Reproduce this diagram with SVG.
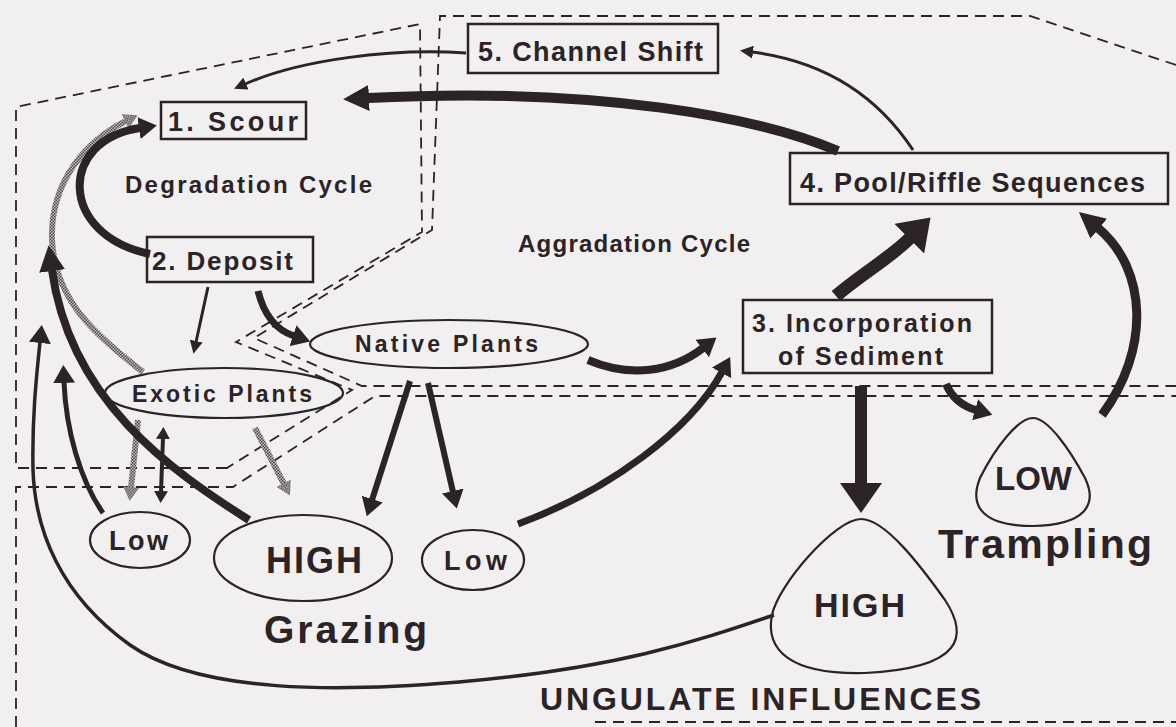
<svg xmlns="http://www.w3.org/2000/svg" width="1176" height="727" viewBox="0 0 1176 727">
<style>
.t{font-family:"Liberation Sans",Arial,Helvetica,sans-serif;font-weight:bold;fill:#2b2326}
.box{fill:none;stroke:#2b2326;stroke-width:2.5}
.ell{fill:none;stroke:#2b2326;stroke-width:2.2}
.reg{fill:none;stroke:#2b2326;stroke-width:1.8;stroke-dasharray:11 7}
.c{fill:none;stroke:#2b2326;stroke-linecap:butt}
.g{fill:none;stroke:url(#stip);stroke-width:6}
</style>
<defs>
<pattern id="stip" width="3" height="3" patternUnits="userSpaceOnUse">
<rect width="3" height="3" fill="#c4c1c2"/>
<rect width="1.5" height="1.5" fill="#4a4548"/>
<rect x="1.5" y="1.5" width="1.5" height="1.5" fill="#4a4548"/>
</pattern>
<pattern id="hatch" width="4" height="4" patternUnits="userSpaceOnUse">
<rect width="4" height="4" fill="#2b2326"/>
<rect x="1" y="1" width="1" height="1" fill="#8a8587"/>
</pattern>
<marker id="hXL" markerUnits="userSpaceOnUse" markerWidth="30" markerHeight="42" viewBox="0 0 30 42" refX="1" refY="21" orient="auto"><path d="M0,0 L30,21 L0,42 Z" fill="#2b2326"/></marker>
<marker id="hL" markerUnits="userSpaceOnUse" markerWidth="26" markerHeight="26" viewBox="0 0 26 26" refX="1" refY="13" orient="auto"><path d="M0,0 L26,13 L0,26 Z" fill="#2b2326"/></marker>
<marker id="hM" markerUnits="userSpaceOnUse" markerWidth="18" markerHeight="22" viewBox="0 0 18 22" refX="1" refY="11" orient="auto"><path d="M0,0 L18,11 L0,22 Z" fill="#2b2326"/></marker>
<marker id="hS" markerUnits="userSpaceOnUse" markerWidth="13" markerHeight="13" viewBox="0 0 13 13" refX="1" refY="6.5" orient="auto"><path d="M0,0 L13,6.5 L0,13 Z" fill="#2b2326"/></marker>
<marker id="hD" markerUnits="userSpaceOnUse" markerWidth="12" markerHeight="14" viewBox="0 0 12 14" refX="1" refY="7" orient="auto-start-reverse"><path d="M0,0 L12,7 L0,14 Z" fill="#2b2326"/></marker>
<marker id="hG" markerUnits="userSpaceOnUse" markerWidth="14" markerHeight="16" viewBox="0 0 14 16" refX="1" refY="8" orient="auto"><path d="M0,0 L14,8 L0,16 Z" fill="url(#stip)"/></marker>
</defs>
<rect width="1176" height="727" fill="#f1eff0"/>

<g id="regions">
<path class="reg" d="M227,468 L16,468 L16,107 L420,24 L422,232 L236,342 L352,390 Z"/>
<path class="reg" d="M1176,65 L1030,16 L440,16 L432,230 L254,338 L362,386 L1176,386"/>
<path class="reg" d="M16,727 L16,487 L233,487 L375,396 L1176,396"/>
<path class="reg" d="M595,722 L1176,722"/>
</g>

<g id="connectors">
<path class="g" d="M143,372 C95,335 55,300 52,240 C50,180 88,140 126,121" marker-end="url(#hG)"/>
<path class="g" d="M138,420 L131,488" marker-end="url(#hG)"/>
<path class="g" d="M255,428 L284,484" marker-end="url(#hG)"/>
<path class="c" stroke="url(#hatch)" stroke-width="10" d="M838,151 C760,118 600,86 368,98" marker-end="url(#hL)"/>
<path class="c" stroke-width="3" d="M913,150 C880,100 830,62 752,52" marker-end="url(#hS)"/>
<path class="c" stroke-width="3" d="M466,53 C390,48 300,60 245,84" marker-end="url(#hS)"/>
<path class="c" stroke-width="8" d="M150,254 C58,235 58,140 140,128" marker-end="url(#hM)"/>
<path class="c" stroke-width="3" d="M208,287 L196,342" marker-end="url(#hS)"/>
<path class="c" stroke-width="7" d="M258,291 C264,315 276,330 294,336" marker-end="url(#hM)"/>
<path class="c" stroke-width="8" d="M588,360 C630,378 672,372 703,348" marker-end="url(#hM)"/>
<path class="c" stroke-width="7" d="M518,524 C610,490 690,430 722,372" marker-end="url(#hM)"/>
<path class="c" stroke-width="6" d="M410,381 L372,500" marker-end="url(#hM)"/>
<path class="c" stroke-width="6" d="M428,383 L453,492" marker-end="url(#hM)"/>
<path class="c" stroke-width="13" d="M836,296 C860,275 890,258 910,238" marker-end="url(#hXL)"/>
<path class="c" stroke-width="12" d="M861,386 L861,484" marker-end="url(#hXL)"/>
<path class="c" stroke-width="8" d="M946,384 C952,398 962,406 976,410" marker-end="url(#hM)"/>
<path class="c" stroke-width="9" d="M1102,415 C1150,350 1148,270 1098,228" marker-end="url(#hL)"/>
<path class="c" stroke-width="8" d="M249,520 C170,470 70,400 52,270" marker-end="url(#hL)"/>
<path class="c" stroke-width="5" d="M103,513 C80,480 66,430 64,382" marker-end="url(#hM)"/>
<path class="c" stroke-width="3.5" d="M774,615 C700,640 620,668 459,682 C340,692 200,694 130,645 C60,595 35,530 33,470 C32,420 36,380 40,342" marker-end="url(#hM)"/>
<path class="c" stroke-width="4" d="M163,438 L161,492" marker-start="url(#hD)" marker-end="url(#hD)"/>
</g>

<g id="n5">
<rect class="box" x="468" y="24" width="250" height="49"/>
<text class="t" x="478" y="61" font-size="27" textLength="225" lengthAdjust="spacing">5. Channel Shift</text>
</g>
<g id="n1">
<rect class="box" x="161" y="102" width="145" height="37"/>
<text class="t" x="168" y="131" font-size="27" textLength="130" lengthAdjust="spacing">1. Scour</text>
</g>
<g id="lblDeg">
<text class="t" x="125" y="193" font-size="24" textLength="247" lengthAdjust="spacing">Degradation Cycle</text>
</g>
<g id="n4">
<rect class="box" x="790" y="153" width="378" height="51"/>
<text class="t" x="800" y="192" font-size="27" textLength="345" lengthAdjust="spacing">4. Pool/Riffle Sequences</text>
</g>
<g id="lblAgg">
<text class="t" x="518" y="252" font-size="24" textLength="232" lengthAdjust="spacing">Aggradation Cycle</text>
</g>
<g id="n2">
<rect class="box" x="147" y="237" width="166" height="45"/>
<text class="t" x="152" y="270" font-size="26" textLength="141" lengthAdjust="spacing">2. Deposit</text>
</g>
<g id="native">
<ellipse class="ell" cx="449" cy="344" rx="139" ry="24"/>
<text class="t" x="355" y="352" font-size="23" textLength="183" lengthAdjust="spacing">Native Plants</text>
</g>
<g id="exotic">
<ellipse class="ell" cx="224" cy="393" rx="119" ry="25"/>
<text class="t" x="132" y="402" font-size="23" textLength="180" lengthAdjust="spacing">Exotic Plants</text>
</g>
<g id="n3">
<rect class="box" x="743" y="300" width="249" height="73"/>
<text class="t" x="752" y="332" font-size="25" textLength="220" lengthAdjust="spacing">3. Incorporation</text>
<text class="t" x="778" y="365" font-size="25" textLength="165" lengthAdjust="spacing">of Sediment</text>
</g>
<g id="grazeLowL">
<ellipse class="ell" cx="140" cy="540" rx="50" ry="28"/>
<text class="t" x="109" y="550" font-size="27" textLength="59" lengthAdjust="spacing">Low</text>
</g>
<g id="grazeHigh">
<ellipse class="ell" cx="303" cy="558" rx="89" ry="43"/>
<text class="t" x="266" y="573" font-size="36" textLength="96" lengthAdjust="spacing">HIGH</text>
</g>
<g id="grazeLowR">
<ellipse class="ell" cx="473" cy="560" rx="51" ry="30"/>
<text class="t" x="444" y="570" font-size="27" textLength="63" lengthAdjust="spacing">Low</text>
</g>
<g id="lblGrazing">
<text class="t" x="264" y="643" font-size="39" textLength="163" lengthAdjust="spacing">Grazing</text>
</g>
<g id="trampHigh">
<path class="ell" d="M861,519 C885,519 920,565 945,600 C968,635 965,668 865,673 C790,675 765,650 772,615 C778,585 835,519 861,519 Z"/>
<text class="t" x="814" y="617" font-size="34" textLength="91" lengthAdjust="spacing">HIGH</text>
</g>
<g id="trampLow">
<path class="ell" d="M1033,418 C1048,418 1070,450 1085,478 C1098,505 1085,525 1033,526 C985,526 968,508 980,478 C995,448 1018,418 1033,418 Z"/>
<text class="t" x="995" y="490" font-size="33" textLength="77" lengthAdjust="spacing">LOW</text>
</g>
<g id="lblTrampling">
<text class="t" x="938" y="558" font-size="41" textLength="214" lengthAdjust="spacing">Trampling</text>
</g>
<g id="lblUngulate">
<text class="t" x="540" y="710" font-size="32" textLength="441" lengthAdjust="spacing">UNGULATE INFLUENCES</text>
</g>
</svg>
